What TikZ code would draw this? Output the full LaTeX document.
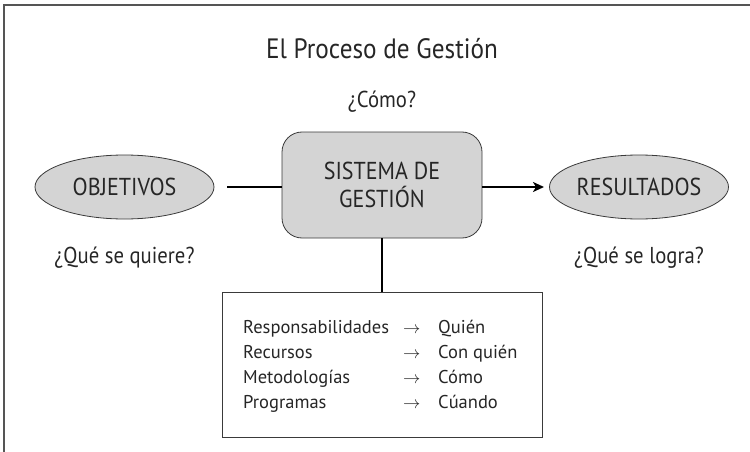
\documentclass[tikz,border=0pt]{standalone}
\usepackage{fontspec}
\setmainfont{PT Sans}
\newfontfamily\narrowsans{PT Sans}[FakeStretch=0.9]
\usetikzlibrary{shapes.geometric,arrows.meta}
\definecolor{boxgray}{HTML}{D4D4D4}
\definecolor{edgegray}{HTML}{3A3A3A}
\definecolor{txtgray}{HTML}{262626}
\definecolor{framegray}{HTML}{555555}
\begin{document}
\begin{tikzpicture}[x=1pt,y=-1pt,
  every node/.style={text=txtgray},
  oval/.style={ellipse, fill=boxgray, draw=edgegray, line width=0.8pt,
    minimum width=179pt, minimum height=64pt, inner sep=0pt,
    font=\narrowsans\fontsize{24.5}{28}\selectfont},
  sysbox/.style={rectangle, rounded corners=20pt, fill=boxgray, draw=edgegray,
    line width=0.8pt, minimum width=200pt, minimum height=106pt, inner sep=0pt,
    align=center, font=\narrowsans\fontsize{24.5}{28}\selectfont},
  listbox/.style={rectangle, draw=edgegray, line width=0.8pt,
    minimum width=320pt, minimum height=145pt, inner sep=0pt},
  lbl/.style={font=\narrowsans\fontsize{23}{26}\selectfont, inner sep=0pt},
  item/.style={font=\fontsize{18.5}{22}\selectfont, inner sep=0pt, anchor=base west},
  conn/.style={line width=1.8pt, black},
  frameline/.style={line width=1.4pt, framegray}
]
\useasboundingbox (0,0) rectangle (750,452);
% frame
\coordinate (ftr) at (750,5);
\coordinate (ftl) at (4,5);
\coordinate (fbl) at (4,452);
\draw[frameline] (ftr) -- (ftl) -- (fbl);

% title and labels
\node[font=\narrowsans\fontsize{28}{32}\selectfont, inner sep=0pt] (title) at (382,49) {El Proceso de Gestión};
\node[lbl] (como) at (382,102) {¿Cómo?};

% main shapes
\node[oval] (obj) at (124.5,187) {OBJETIVOS};
\node[sysbox] (sys) at (382,185) {SISTEMA DE\\GESTIÓN};
\node[oval] (res) at (639,187) {RESULTADOS};
\node[lbl] (quiere) at (124.5,258) {¿Qué se quiere?};
\node[lbl] (logra) at (639,258) {¿Qué se logra?};

% list box
\node[listbox] (list) at (382,364.5) {};
\node[item] (r1a) at (243,333) {Responsabilidades};
\node[item] (r2a) at (243,358) {Recursos};
\node[item] (r3a) at (243,383) {Metodologías};
\node[item] (r4a) at (243,408) {Programas};
\node[item] (r1b) at (403,333) {$\rightarrow$};
\node[item] (r2b) at (403,358) {$\rightarrow$};
\node[item] (r3b) at (403,383) {$\rightarrow$};
\node[item] (r4b) at (403,408) {$\rightarrow$};
\node[item] (r1c) at (438,333) {Quién};
\node[item] (r2c) at (438,358) {Con quién};
\node[item] (r3c) at (438,383) {Cómo};
\node[item] (r4c) at (438,408) {Cúando};

% connectors
\coordinate (lstart) at (227,187);
\coordinate (rend) at (544,187);
\draw[conn] (lstart) -- (sys.west |- lstart);
\draw[conn, -{Stealth[length=11pt,width=10pt,inset=3pt]}] (sys.east |- rend) -- (rend);
\draw[conn] (sys.south) -- (list.north);
\end{tikzpicture}
\end{document}
